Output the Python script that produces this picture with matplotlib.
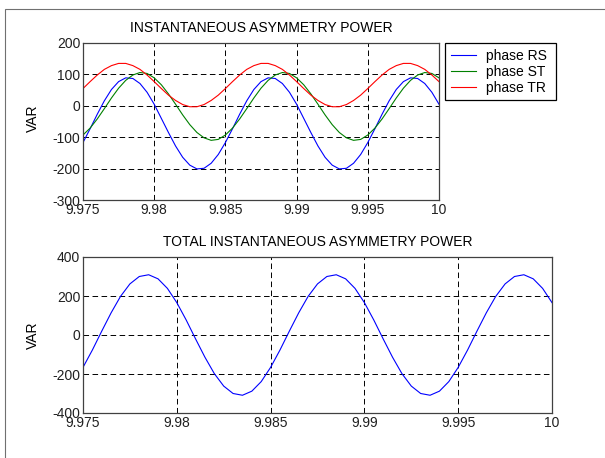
import numpy as np
import matplotlib.pyplot as plt
from matplotlib.patches import Rectangle

plt.rcParams['font.family'] = ['Liberation Sans', 'DejaVu Sans']
plt.rcParams['font.size'] = 10
plt.rcParams['lines.scale_dashes'] = False

# time base : 9.975 s -> 10 s, one sample every 0.5 ms
t0, t1, n = 9.975, 10.0, 51
t = np.linspace(t0, t1, n)

# instantaneous asymmetry power per phase (VAR)
p_rs = [-117, -73, -27, 16, 52, 77, 89, 87, 71, 43, 5, -40, -85, -128, -164, -189, -201, -199, -183, -155,
        -117, -73, -27, 16, 52, 77, 89, 87, 71, 43, 5, -40, -85, -128, -164, -189, -201, -199, -183, -155,
        -117, -73, -27, 16, 52, 77, 89, 87, 71, 43, 5]
p_st = [-93, -71, -42, -9, 25, 56, 81, 98, 106, 103, 89, 67, 38, 5, -29, -60, -85, -102, -110, -107,
        -93, -71, -42, -9, 25, 56, 81, 98, 106, 103, 89, 67, 38, 5, -29, -60, -85, -102, -110, -107,
        -93, -71, -42, -9, 25, 56, 81, 98, 106, 103, 89]
p_tr = [55, 77, 98, 116, 128, 135, 135, 128, 116, 98, 77, 55, 34, 17, 4, -3, -3, 4, 17, 34,
        55, 77, 98, 116, 128, 135, 135, 128, 116, 98, 77, 55, 34, 17, 4, -3, -3, 4, 17, 34,
        55, 77, 98, 116, 128, 135, 135, 128, 116, 98, 77]
# total instantaneous asymmetry power
p_tot = [-166, -77, 20, 114, 198, 262, 300, 309, 288, 239, 166, 77, -20, -114, -198, -262, -300, -309, -288, -239,
         -166, -77, 20, 114, 198, 262, 300, 309, 288, 239, 166, 77, -20, -114, -198, -262, -300, -309, -288, -239,
         -166, -77, 20, 114, 198, 262, 300, 309, 288, 239, 166]

xticks = [9.975, 9.98, 9.985, 9.99, 9.995, 10]
xlabels = ['9.975', '9.98', '9.985', '9.99', '9.995', '10']
yticks1 = [-300, -200, -100, 0, 100, 200]
yticks2 = [-400, -200, 0, 200, 400]

fig = plt.figure(figsize=(6.05, 4.58), dpi=100)
# window frame (top and left edges only)
fig.patches.append(Rectangle((5/605, -0.5), 2, 1.5 - 9/458, transform=fig.transFigure,
                             fill=False, edgecolor='#707070', lw=0.8))

def style(ax, yt, ylim):
    ax.set_xlim(t0, t1)
    ax.set_ylim(*ylim)
    ax.set_xticks(xticks)
    ax.set_xticklabels(xlabels)
    ax.set_yticks(yt)
    ax.set_yticklabels([str(v) for v in yt])
    ax.tick_params(direction='in', length=0, labelsize=10, colors='#202020')
    ax.tick_params(axis='x', pad=2.5)
    ax.tick_params(axis='y', pad=2)
    ax.grid(True, color='black', lw=0.7, linestyle=(0, (4, 2.5)))
    for s in ax.spines.values():
        s.set_color('#404040')
        s.set_linewidth(0.9)
    ax.set_ylabel('VAR', fontsize=10)

ax1 = fig.add_axes([83/605, 1 - 200/458, 356/605, 157/458])
ax1.plot(t, p_rs, color='blue', lw=0.8, label='phase RS ')
ax1.plot(t, p_st, color='green', lw=0.8, label='phase ST ')
ax1.plot(t, p_tr, color='red', lw=0.8, label='phase TR ')
style(ax1, yticks1, (-300, 200))
ax1.yaxis.set_label_coords(-0.121, 0.52)
ax1.set_title('INSTANTANEOUS ASYMMETRY POWER', fontsize=10, pad=8)
leg = ax1.legend(loc='upper left', bbox_to_anchor=(445/605, 1 - 43/458), bbox_transform=fig.transFigure,
                 fancybox=False, framealpha=1, edgecolor='black', borderaxespad=0,
                 handlelength=1.8, handletextpad=0.75, labelspacing=0.15, borderpad=0.4)
leg.get_frame().set_linewidth(0.9)

ax2 = fig.add_axes([83/605, 1 - 413/458, 469/605, 156/458])
ax2.plot(t, p_tot, color='blue', lw=0.8)
style(ax2, yticks2, (-400, 400))
ax2.yaxis.set_label_coords(-0.092, 0.5)
ax2.set_title('TOTAL INSTANTANEOUS ASYMMETRY POWER', fontsize=10, pad=8)

fig.savefig('out.png', dpi=100)
